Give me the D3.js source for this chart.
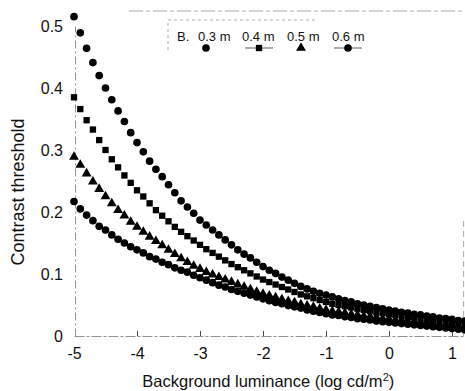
<!DOCTYPE html>
<html>
<head>
<meta charset="utf-8">
<script src="https://cdn.jsdelivr.net/npm/d3@7"></script>
<style>
  body { margin: 0; background: #fff; }
  svg { font-family: "Liberation Sans", Arial, sans-serif; }
</style>
</head>
<body>
<div id="chart"></div>
<script>
// luminance steps -5.0 .. 1.2 by 0.1
const luminance = d3.range(63).map(i => +(-5 + i * 0.1).toFixed(1));

const dist03 = [0.217, 0.205, 0.195, 0.186, 0.177, 0.171, 0.163, 0.156, 0.150, 0.144, 0.139, 0.134, 0.128, 0.124, 0.119, 0.115, 0.110, 0.106, 0.103, 0.098,
  0.094, 0.090, 0.086, 0.082, 0.079, 0.075, 0.072, 0.069, 0.066, 0.063, 0.060,
  0.057, 0.054, 0.052, 0.049, 0.047, 0.045, 0.042, 0.040, 0.038, 0.036,
  0.034, 0.033, 0.031, 0.030, 0.028, 0.027, 0.026, 0.024, 0.023, 0.022,
  0.021, 0.020, 0.019, 0.018, 0.017, 0.016, 0.015, 0.014, 0.013, 0.012, 0.011, 0.010];

const dist04 = [0.385, 0.366, 0.348, 0.333, 0.316, 0.300, 0.285, 0.272, 0.259, 0.247, 0.235, 0.225, 0.214, 0.203, 0.194, 0.185, 0.176, 0.168, 0.161, 0.154,
  0.147, 0.140, 0.134, 0.128, 0.122, 0.116, 0.111, 0.106, 0.101, 0.096, 0.091,
  0.087, 0.083, 0.079, 0.075, 0.071, 0.067, 0.064, 0.061, 0.058, 0.055,
  0.052, 0.050, 0.048, 0.046, 0.044, 0.042, 0.040, 0.038, 0.037, 0.035,
  0.034, 0.032, 0.031, 0.030, 0.028, 0.027, 0.026, 0.025, 0.023, 0.022, 0.021, 0.020];

const dist05 = [0.289, 0.276, 0.262, 0.249, 0.237, 0.225, 0.214, 0.203, 0.194, 0.184, 0.176, 0.168, 0.160, 0.153, 0.146, 0.139, 0.132, 0.125, 0.119, 0.113,
  0.108, 0.103, 0.099, 0.095, 0.091, 0.087, 0.083, 0.079, 0.075, 0.071, 0.068,
  0.065, 0.062, 0.059, 0.056, 0.054, 0.051, 0.049, 0.047, 0.044, 0.042,
  0.040, 0.039, 0.037, 0.035, 0.034, 0.032, 0.031, 0.030, 0.028, 0.027,
  0.026, 0.025, 0.024, 0.023, 0.022, 0.021, 0.020, 0.019, 0.018, 0.017, 0.016, 0.015];

const dist06 = [0.515, 0.489, 0.464, 0.441, 0.420, 0.400, 0.381, 0.363, 0.346, 0.328, 0.312, 0.297, 0.282, 0.269, 0.257, 0.244, 0.231, 0.218, 0.208, 0.198, 0.187,
  0.179, 0.171, 0.163, 0.155, 0.147, 0.139, 0.132, 0.126, 0.119, 0.112,
  0.106, 0.101, 0.095, 0.090, 0.085, 0.080, 0.076, 0.072, 0.069, 0.066,
  0.063, 0.060, 0.057, 0.055, 0.052, 0.050, 0.048, 0.046, 0.044, 0.042,
  0.040, 0.038, 0.037, 0.035, 0.034, 0.032, 0.031, 0.029, 0.028, 0.027, 0.025, 0.024];

const seriesNames = ["0.3 m", "0.4 m", "0.5 m", "0.6 m"];
const seriesShapes = ["circle", "square", "triangle", "circle"];
const xTicks = [-5, -4, -3, -2, -1, 0, 1];
const yTicks = [0, 0.1, 0.2, 0.3, 0.4, 0.5];

const series = [dist03, dist04, dist05, dist06].map((vals, i) => ({
  name: seriesNames[i],
  shape: seriesShapes[i],
  points: vals.map((v, j) => ({ x: luminance[j], y: v }))
}));

const width = 465, height = 391;
const margin = { top: 11, right: 2, bottom: 55, left: 74 };

const xScale = d3.scaleLinear().domain([-5, 1.2]).range([margin.left, margin.left + 63 * 6.2]);
const yScale = d3.scaleLinear().domain([0, 0.5]).range([height - margin.bottom, height - margin.bottom - 310]);

const svg = d3.select("#chart").append("svg")
  .attr("width", width)
  .attr("height", height);

const symbolFor = shape => {
  if (shape === "square") return d3.symbol().type(d3.symbolSquare).size(40);
  if (shape === "triangle") return d3.symbol().type(d3.symbolTriangle).size(42);
  return d3.symbol().type(d3.symbolCircle).size(46);
};

// frame (faint, scanned look)
const x0 = xScale(-5), x1 = xScale(1.2), yb = yScale(0), yt = margin.top;
svg.append("line").attr("x1", x0 + 55).attr("x2", x1).attr("y1", yt).attr("y2", yt)
  .attr("stroke", "#999").attr("stroke-width", 0.8).attr("stroke-dasharray", "14,3,4,3");
svg.append("line").attr("x1", x1 - 1).attr("x2", x1 - 1).attr("y1", yb - 115).attr("y2", yb)
  .attr("stroke", "#999").attr("stroke-width", 0.8).attr("stroke-dasharray", "6,4");

// x axis
const xAxis = svg.append("g")
  .attr("transform", `translate(0,${yb})`)
  .call(d3.axisBottom(xScale).tickValues(xTicks).tickSize(0).tickPadding(12)
    .tickFormat(d => d < 0 ? "-" + Math.abs(d) : d));
xAxis.select(".domain").attr("stroke", "#777").attr("stroke-width", 0.8).attr("stroke-dasharray", "10,2,3,2");
xAxis.selectAll("text").attr("font-size", 16).attr("fill", "#111");
xAxis.selectAll(".tick").filter(d => d > -5).append("line")
  .attr("y1", 0).attr("y2", -5).attr("stroke", "#333").attr("stroke-width", 0.9);

// y axis
const yAxis = svg.append("g")
  .attr("transform", `translate(${x0 + 1},0)`)
  .call(d3.axisLeft(yScale).tickValues(yTicks).tickSize(0).tickPadding(12)
    .tickFormat(d => d === 0 ? "0" : d3.format(".1f")(d)));
yAxis.select(".domain").attr("stroke", "#777").attr("stroke-width", 0.8).attr("stroke-dasharray", "8,3,2,3");
yAxis.selectAll("text").attr("font-size", 16).attr("fill", "#111");

// axis titles
svg.append("text")
  .attr("x", (x0 + x1) / 2 - 1)
  .attr("y", height - 4)
  .attr("text-anchor", "middle")
  .attr("font-size", 16.5)
  .attr("fill", "#111")
  .html('Background luminance (log cd/m<tspan dy="-6" font-size="11">2</tspan><tspan dy="6">)</tspan>');

svg.append("text")
  .attr("transform", `translate(24,192) rotate(-90)`)
  .attr("text-anchor", "middle")
  .attr("font-size", 18)
  .attr("fill", "#111")
  .text("Contrast threshold");

// markers
series.forEach(s => {
  svg.append("g").selectAll("path")
    .data(s.points)
    .join("path")
    .attr("d", symbolFor(s.shape))
    .attr("transform", d => `translate(${xScale(d.x)},${yScale(d.y)})`)
    .attr("fill", "#000");
});

// legend
const legend = svg.append("g").attr("transform", "translate(168,20)");
legend.append("path").attr("d", "M0,30 V0 H150")
  .attr("fill", "none").attr("stroke", "#999").attr("stroke-width", 0.8).attr("stroke-dasharray", "3,3");
legend.append("text").attr("x", 9).attr("y", 21).attr("font-size", 13).attr("fill", "#111").text("B.");
const legendX = [30, 74, 119, 164];
const legendLine = [false, true, false, true];
series.forEach((s, i) => {
  legend.append("text").attr("x", legendX[i]).attr("y", 21).attr("font-size", 13)
    .attr("fill", "#111").text(s.name);
  const mx = legendX[i] + (i === 3 ? 16 : 8) + (i === 1 ? 9 : 0) + (i === 2 ? 6 : 0);
  if (legendLine[i]) {
    legend.append("line").attr("x1", mx - 14).attr("x2", mx + 14)
      .attr("y1", 28).attr("y2", 28).attr("stroke", "#333").attr("stroke-width", 0.8);
  }
  legend.append("path").attr("d", symbolFor(s.shape))
    .attr("transform", `translate(${mx},28)`).attr("fill", "#000");
});
</script>
</body>
</html>
